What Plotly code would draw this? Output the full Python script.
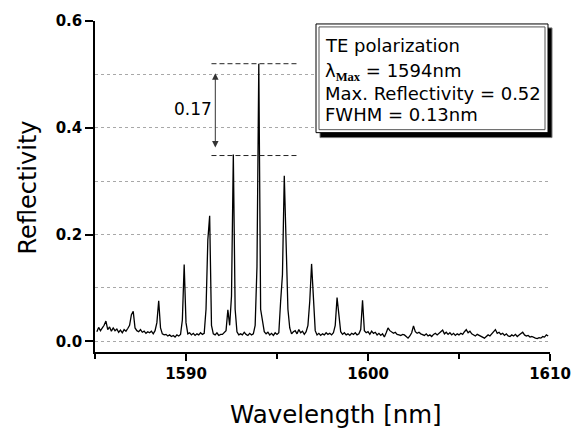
import numpy as np
import plotly.graph_objects as go

# Wavelength samples [nm] (0.1 nm step, 1585.1 .. 1609.9)
wavelength = np.round(np.arange(1585.1, 1609.95, 0.1), 1)

# Reflectivity, one row per nm
reflectivity = (
    [0.018, 0.026, 0.020, 0.024, 0.030, 0.038, 0.022, 0.027, 0.019] +             # 1585.1-1585.9
    [0.025, 0.020, 0.023, 0.017, 0.021, 0.016, 0.022, 0.019, 0.024, 0.030] +      # 1586
    [0.050, 0.056, 0.025, 0.020, 0.018, 0.022, 0.017, 0.019, 0.015, 0.018] +      # 1587
    [0.016, 0.019, 0.014, 0.020, 0.035, 0.076, 0.025, 0.014, 0.012, 0.013] +      # 1588
    [0.010, 0.012, 0.009, 0.011, 0.008, 0.012, 0.010, 0.013, 0.040, 0.144] +      # 1589
    [0.035, 0.014, 0.016, 0.012, 0.015, 0.011, 0.014, 0.012, 0.016, 0.013] +      # 1590
    [0.015, 0.060, 0.190, 0.235, 0.030, 0.014, 0.012, 0.016, 0.011, 0.013] +      # 1591
    [0.013, 0.016, 0.020, 0.059, 0.030, 0.085, 0.350, 0.060, 0.018, 0.012] +      # 1592
    [0.014, 0.012, 0.017, 0.013, 0.011, 0.015, 0.012, 0.014, 0.030, 0.140] +      # 1593
    [0.520, 0.060, 0.040, 0.018, 0.014, 0.017, 0.012, 0.015, 0.011, 0.016] +      # 1594
    [0.013, 0.016, 0.075, 0.125, 0.310, 0.200, 0.060, 0.025, 0.014, 0.018] +      # 1595
    [0.020, 0.014, 0.022, 0.016, 0.019, 0.013, 0.018, 0.030, 0.075, 0.145] +      # 1596
    [0.072, 0.020, 0.012, 0.015, 0.011, 0.014, 0.012, 0.016, 0.013, 0.015] +      # 1597
    [0.012, 0.016, 0.030, 0.082, 0.050, 0.018, 0.013, 0.016, 0.012, 0.014] +      # 1598
    [0.011, 0.015, 0.013, 0.016, 0.012, 0.014, 0.022, 0.077, 0.020, 0.016] +      # 1599
    [0.018, 0.013, 0.019, 0.015, 0.017, 0.012, 0.015, 0.011, 0.014, 0.008] +      # 1600
    [0.016, 0.025, 0.020, 0.018, 0.015, 0.017, 0.013, 0.012, 0.011, 0.013] +      # 1601
    [0.012, 0.009, 0.006, 0.010, 0.016, 0.029, 0.018, 0.015, 0.017, 0.014] +      # 1602
    [0.013, 0.011, 0.014, 0.010, 0.012, 0.009, 0.013, 0.015, 0.012, 0.016] +      # 1603
    [0.018, 0.021, 0.014, 0.017, 0.013, 0.016, 0.012, 0.015, 0.011, 0.014] +      # 1604
    [0.012, 0.015, 0.013, 0.018, 0.022, 0.016, 0.019, 0.014, 0.012, 0.010] +      # 1605
    [0.013, 0.011, 0.009, 0.008, 0.006, 0.009, 0.012, 0.010, 0.014, 0.016] +      # 1606
    [0.022, 0.015, 0.017, 0.013, 0.015, 0.011, 0.014, 0.010, 0.009, 0.012] +      # 1607
    [0.010, 0.013, 0.009, 0.012, 0.014, 0.017, 0.012, 0.010, 0.011, 0.008] +      # 1608
    [0.009, 0.007, 0.006, 0.005, 0.007, 0.006, 0.009, 0.008, 0.012, 0.010]        # 1609
)

x_tick_vals = [1590, 1600, 1610]
y_tick_vals = [0.0, 0.2, 0.4, 0.6]

peak_level = 0.52
second_level = 0.348
diff_label = "0.17"
info_lines = [
    "TE polarization",
    "λ<sub><span style='font-family:Liberation Serif'><b>Max</b></span></sub> = 1594nm",
    "Max. Reflectivity = 0.52",
    "FWHM = 0.13nm",
]

FONT = "DejaVu Sans"
W, H = 583, 428
ML, MR, MT, MB = 95, 33, 17, 76
PW, PH = W - ML - MR, H - MT - MB


def px(x):
    return (x - ML) / PW


def py(y):
    return (H - MB - y) / PH


fig = go.Figure()
fig.add_trace(go.Scatter(x=wavelength, y=reflectivity, mode="lines",
                         line=dict(color="black", width=1.3), showlegend=False))

grid = dict(gridcolor="#a8a8a8", griddash="3px,3px", gridwidth=1)

fig.update_layout(
    width=W, height=H,
    margin=dict(l=ML, r=MR, t=MT, b=MB),
    paper_bgcolor="white", plot_bgcolor="white",
    font=dict(family=FONT, color="black"),
    showlegend=False,
    xaxis=dict(range=[1585, 1610], tickvals=x_tick_vals, ticks="outside", ticklen=7,
               tickwidth=1.5, tickcolor="black", showline=True, linecolor="black",
               linewidth=1.5, showgrid=False, zeroline=False,
               tickfont=dict(family=FONT, size=15, weight="bold"),
               minor=dict(ticks="outside", ticklen=5, tickwidth=1.5, tickcolor="black",
                          dtick=5, tick0=1585, showgrid=False)),
    yaxis=dict(range=[-0.02, 0.6], tickvals=y_tick_vals, tickformat=".1f", ticks="outside",
               ticklen=8, tickwidth=1.5, tickcolor="black", showline=True, linecolor="black",
               linewidth=1.5, zeroline=False, showgrid=True, **grid,
               tickfont=dict(family=FONT, size=15, weight="bold"),
               minor=dict(dtick=0.1, tick0=0, showgrid=True, ticks="", **grid)),
)

# dashed reference levels
for lvl in [peak_level, second_level]:
    fig.add_shape(type="line", xref="x", yref="y", x0=1591.4, x1=1596.1, y0=lvl, y1=lvl,
                  line=dict(color="#222222", width=1, dash="5px,3px"))

# double arrow
fig.add_annotation(x=1591.61, y=0.363, ax=1591.61, ay=0.505, axref="x", ayref="y",
                   xref="x", yref="y", text="", showarrow=True, arrowhead=2,
                   startarrowhead=2, arrowside="end+start", arrowsize=1.3,
                   startarrowsize=1.3, arrowwidth=1, arrowcolor="#333333",
                   standoff=0, startstandoff=0)
fig.add_annotation(x=1590.37, y=0.436, xref="x", yref="y", text=diff_label,
                   showarrow=False, xanchor="center", yanchor="middle",
                   font=dict(family=FONT, size=17))

# info box: shadow, box, inner frame
fig.add_shape(type="rect", xref="paper", yref="paper", x0=px(320), x1=px(552),
              y0=py(135), y1=py(24), fillcolor="black", line=dict(color="#777777", width=1))
fig.add_shape(type="rect", xref="paper", yref="paper", x0=px(316), x1=px(548),
              y0=py(130), y1=py(20), fillcolor="white", line=dict(color="black", width=1))
fig.add_shape(type="rect", xref="paper", yref="paper", x0=px(319), x1=px(545),
              y0=py(127), y1=py(23), line=dict(color="#555555", width=1))

line_centers = [41.7, 68.7, 90.2, 111.2]
for txt, yc in zip(info_lines, line_centers):
    fig.add_annotation(x=px(323), y=py(yc), xref="paper", yref="paper", text=txt,
                       showarrow=False, xanchor="left", yanchor="middle",
                       font=dict(family=FONT, size=18))

# axis titles
fig.add_annotation(x=px(335.5), y=py(415), xref="paper", yref="paper",
                   text="Wavelength [nm]", showarrow=False,
                   xanchor="center", yanchor="middle",
                   font=dict(family=FONT, size=24.5))
fig.add_annotation(x=px(28), y=py(185.5), xref="paper", yref="paper",
                   text="Reflectivity", showarrow=False, textangle=-90,
                   xanchor="center", yanchor="middle",
                   font=dict(family=FONT, size=24))

fig.write_html("out.html")
